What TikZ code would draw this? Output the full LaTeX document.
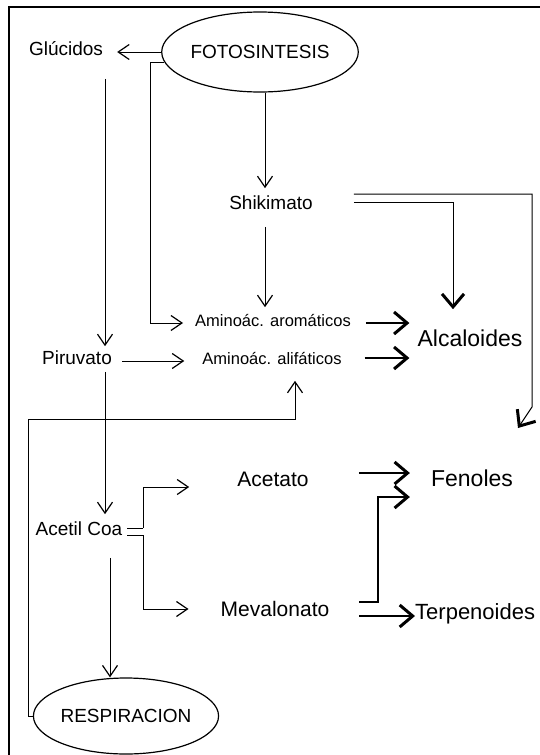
\documentclass[tikz,border=0pt]{standalone}
\usepackage{fontspec}
\setmainfont{Liberation Sans}
\usetikzlibrary{arrows.meta,shapes.geometric}

\begin{document}
\begin{tikzpicture}[
    x=1pt, y=-1pt,
    txt/.style={inner sep=0pt, text height=0.72em, text depth=0pt, font=\fontsize{19}{22}\selectfont},
    small/.style={txt, font=\fontsize{16.5}{19}\selectfont},
    mid/.style={txt, font=\fontsize{21}{24}\selectfont},
    prod/.style={txt, font=\fontsize{23}{26}\selectfont},
    proc/.style={ellipse, draw, line width=1.2pt, inner sep=0pt, font=\fontsize{19}{22}\selectfont},
    arr/.style={-{Straight Barb[length=11pt,width=15pt,line width=1.2pt]}, line width=1pt},
    bigarr/.style={-{Straight Barb[length=13pt,width=22pt,line width=3pt]}, line width=2.5pt},
    bighead/.style={-{Straight Barb[length=13pt,width=22pt,line width=3pt]}, line width=1pt}
]
    \useasboundingbox (0,0) rectangle (540,755);
    \draw[line width=1.8pt] (540,7) -- (9,7) -- (9,755);

    \node[proc, minimum width=162pt, minimum height=80pt] (foto) at (260,52) {FOTOSINTESIS};
    \node[txt] (gluc) at (66,52) {Glúcidos};
    \node[txt] (shik) at (271,206) {Shikimato};
    \node[small] (aroma) at (273,323) {Aminoác. aromáticos};
    \node[small] (alifa) at (272,361) {Aminoác. alifáticos};
    \node[prod] (alca) at (470,343) {Alcaloides};
    \node[txt] (piru) at (77,361) {Piruvato};
    \node[txt] (acet) at (79,532) {Acetil Coa};
    \node[mid] (aceta) at (273,483) {Acetato};
    \node[mid] (meva) at (275,613) {Mevalonato};
    \node[prod] (feno) at (472,483) {Fenoles};
    \node[prod, anchor=west, font=\fontsize{22}{25}\selectfont] (terp) at (415,616) {Terpenoides};
    \node[proc, minimum width=158pt, minimum height=76pt] (resp) at (126,716) {RESPIRACION};
    \coordinate (bend) at (28,419);

    % fotosintesis
    \draw[arr, shorten >=14pt] (foto.west) -- (gluc.east);
    \draw[arr] (foto.186) -| ([xshift=-45pt]aroma.west) -- ([xshift=-12pt]aroma.west);
    \draw[arr, shorten >=14pt] ([xshift=5pt]foto.south) -- ([xshift=-6pt]shik.north);
    \draw[arr, shorten <=23pt, shorten >=11pt] ([xshift=39pt]gluc.south) -- ([xshift=28pt]piru.north);

    % shikimato
    \draw[arr, shorten <=17pt, shorten >=12pt] ([xshift=-6pt]shik.south) -- ([xshift=-8pt]aroma.north);
    \draw[bighead, shorten >=30pt] ([xshift=41pt,yshift=4pt]shik.east) -| ([xshift=-17pt]alca.north);
    \draw[bighead] ([xshift=41pt,yshift=12pt]shik.east) -| ([xshift=60pt,yshift=76pt]feno.center)
        -- ([xshift=46pt,yshift=55pt]feno.center);

    % aminoacidos
    \draw[bigarr] ([xshift=15pt]aroma.east) -- ([xshift=-8pt,yshift=20pt]alca.west);
    \draw[bigarr] ([xshift=23pt,yshift=3pt]alifa.east) -- ([xshift=-8pt,yshift=-15pt]alca.west);
    \draw[arr, shorten <=10pt, shorten >=18pt] (piru.east) -- (alifa.west);
    \draw[arr, shorten <=7pt, shorten >=14pt] ([xshift=28pt]piru.south) -- ([xshift=26pt]acet.north);

    % acetil coa
    \draw[line width=0.8pt] ([xshift=5pt,yshift=4pt]acet.east) -- ([xshift=21pt,yshift=4pt]acet.east);
    \draw[line width=0.8pt] ([xshift=5pt,yshift=-3pt]acet.east) -- ([xshift=21pt,yshift=-3pt]acet.east);
    \draw[arr, line width=0.8pt] ([xshift=21pt,yshift=4pt]acet.east) |- ([xshift=-48pt,yshift=-4pt]aceta.west);
    \draw[arr, line width=0.8pt] ([xshift=21pt,yshift=-3pt]acet.east) |- ([xshift=-32pt,yshift=4pt]meva.west);
    \draw[arr, shorten <=22pt] ([xshift=-16pt]resp.north |- acet.south) -- ([xshift=-16pt]resp.north);
    \draw[arr, line width=0.8pt, shorten >=16pt] (resp.west) -| (bend) -| ([xshift=23pt]alifa.south);

    % fenoles y terpenoides
    \draw[bigarr] ([xshift=50pt,yshift=10pt]aceta.east) -- ([xshift=-21pt,yshift=10pt]feno.west);
    \draw[bigarr] ([xshift=30pt,yshift=11pt]meva.east) -| ([xshift=-53pt,yshift=-14pt]feno.west)
        -- ([xshift=-21pt,yshift=-14pt]feno.west);
    \draw[bigarr] ([xshift=30pt]meva.east |- terp.west) -- (terp.west);
\end{tikzpicture}
\end{document}
